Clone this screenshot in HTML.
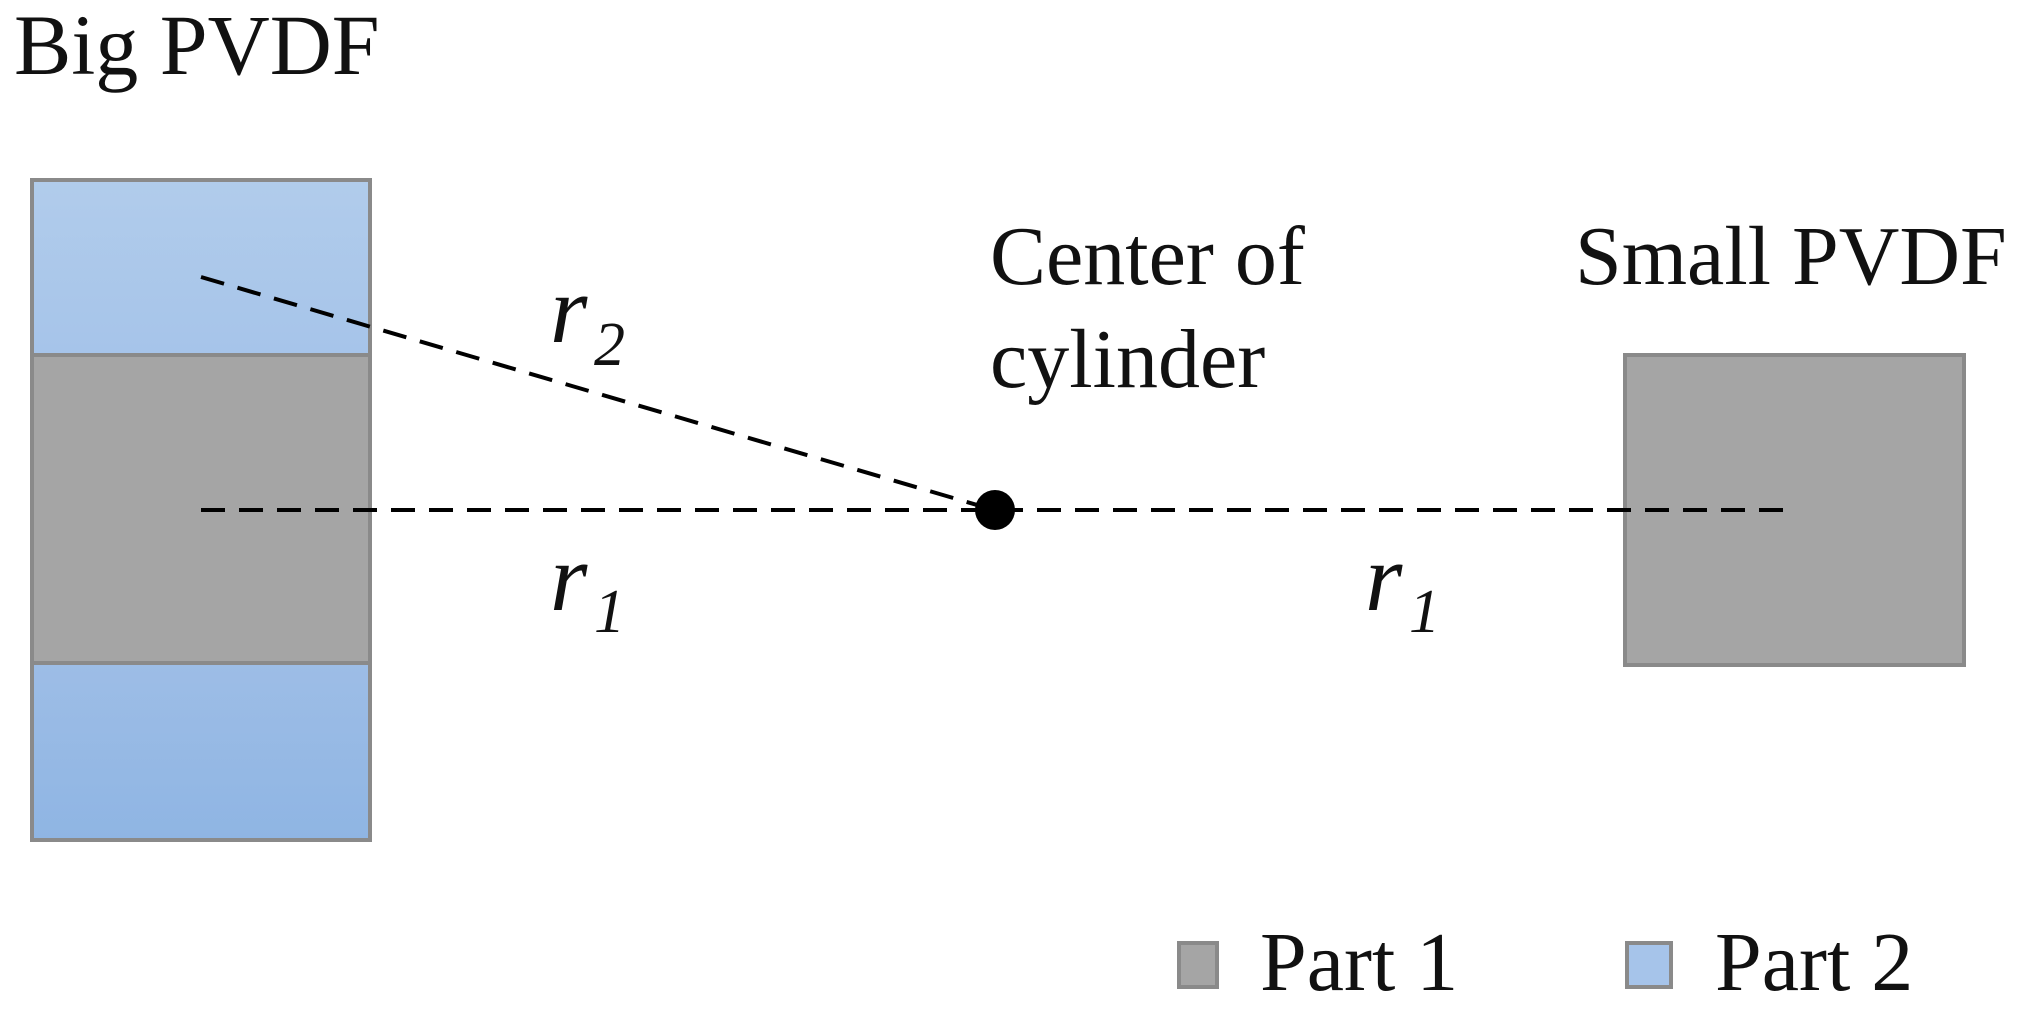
<!DOCTYPE html>
<html><head><style>
html,body{margin:0;padding:0;background:#fff;}
svg{display:block;}
text{font-family:"Liberation Serif",serif;fill:#111;}
</style></head><body>
<svg width="2025" height="1011" viewBox="0 0 2025 1011" xmlns="http://www.w3.org/2000/svg">
<defs>
<linearGradient id="b1" x1="0" y1="0" x2="0" y2="1"><stop offset="0" stop-color="#b1cceb"/><stop offset="1" stop-color="#a6c4ea"/></linearGradient>
<linearGradient id="b2" x1="0" y1="0" x2="0" y2="1"><stop offset="0" stop-color="#9dbde6"/><stop offset="1" stop-color="#8fb5e3"/></linearGradient>
</defs>
<text x="14" y="74" font-size="86">Big PVDF</text>
<rect x="32" y="180" width="338" height="175" fill="url(#b1)" stroke="#8a8a8a" stroke-width="4"/>
<rect x="32" y="355" width="338" height="308" fill="#a5a5a5" stroke="#8a8a8a" stroke-width="4"/>
<rect x="32" y="663" width="338" height="177" fill="url(#b2)" stroke="#8a8a8a" stroke-width="4"/>
<rect x="1625" y="355" width="339" height="310" fill="#a5a5a5" stroke="#8a8a8a" stroke-width="4"/>
<g stroke="#000" stroke-width="4" stroke-dasharray="24,14" fill="none">
<line x1="201" y1="277" x2="994" y2="510"/>
<line x1="201" y1="510" x2="1790" y2="510"/>
</g>
<circle cx="995" cy="510" r="20" fill="#000"/>
<text x="550" y="342" font-size="96" font-style="italic">r</text>
<text x="594" y="365" font-size="62" font-style="italic">2</text>
<text x="550" y="610" font-size="96" font-style="italic">r</text>
<text x="594" y="632" font-size="62" font-style="italic">1</text>
<text x="1365" y="610" font-size="96" font-style="italic">r</text>
<text x="1409" y="632" font-size="62" font-style="italic">1</text>
<text x="990" y="284" font-size="84">Center of</text>
<text x="990" y="387" font-size="84">cylinder</text>
<text x="1575" y="284" font-size="84">Small PVDF</text>
<rect x="1179" y="943" width="38" height="44" fill="#a5a5a5" stroke="#8a8a8a" stroke-width="4"/>
<text x="1260" y="990" font-size="84">Part 1</text>
<rect x="1627" y="943" width="44" height="44" fill="#a6c4ea" stroke="#8a8a8a" stroke-width="4"/>
<text x="1715" y="990" font-size="84">Part 2</text>
</svg>
</body></html>
